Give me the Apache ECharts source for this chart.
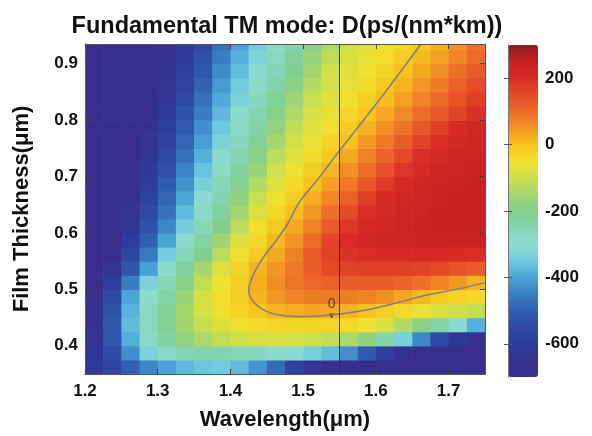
<!DOCTYPE html>
<html>
<head>
<meta charset="utf-8">
<title>Fundamental TM mode dispersion</title>
<script src="https://cdn.jsdelivr.net/npm/echarts@6/dist/echarts.min.js"></script>
<style>
  html, body { margin: 0; padding: 0; background: #fff; }
  #chart { width: 592px; height: 436px; }
</style>
</head>
<body>
<div id="chart"></div>
<script>
// cell centres of the map (um), 0.025 steps
const wavelengths = [1.2125, 1.2375, 1.2625, 1.2875, 1.3125, 1.3375, 1.3625, 1.3875, 1.4125, 1.4375, 1.4625,
  1.4875, 1.5125, 1.5375, 1.5625, 1.5875, 1.6125, 1.6375, 1.6625, 1.6875, 1.7125, 1.7375]
const thicknesses = [0.3625, 0.3875, 0.4125, 0.4375, 0.4625, 0.4875, 0.5125, 0.5375, 0.5625, 0.5875, 0.6125, 0.6375,
  0.6625, 0.6875, 0.7125, 0.7375, 0.7625, 0.7875, 0.8125, 0.8375, 0.8625, 0.8875, 0.9125, 0.9375]

// D in ps/(nm*km), one row per thickness, thinnest film first
const dispersion = [
  [-625, -560, -500, -440, -405, -375, -355, -350, -370, -420, -480, -580, -640, -680, -690, -690, -690, -690, -690, -690, -690, -690],
  [-620, -540, -430, -330, -285, -250, -237, -245, -255, -268, -288, -309, -336, -367, -427, -514, -591, -657, -690, -690, -690, -690],
  [-640, -520, -387, -283, -228, -175, -140, -115, -100, -90, -88, -91, -100, -117, -143, -178, -243, -336, -438, -550, -626, -668],
  [-670, -518, -372, -271, -212, -154, -110, -80, -55, -40, -30, -28, -28, -31, -39, -52, -83, -132, -182, -235, -303, -386],
  [-665, -535, -383, -274, -213, -147, -87, -46, -27, -7, 12, 26, 31, 27, 17, 0, -18, -39, -60, -82, -100, -112],
  [-682, -549, -399, -292, -232, -164, -91, -44, -16, 17, 48, 70, 80, 81, 79, 72, 57, 31, 8, -13, -28, -37],
  [-690, -590, -453, -330, -255, -192, -114, -53, -20, 22, 59, 88, 107, 117, 123, 124, 120, 111, 95, 72, 46, 17],
  [-690, -637, -524, -407, -288, -220, -147, -75, -29, 15, 50, 85, 120, 150, 165, 170, 172, 170, 164, 150, 138, 124],
  [-690, -676, -565, -460, -345, -261, -198, -123, -56, -14, 28, 75, 125, 162, 192, 203, 208, 210, 210, 208, 205, 200],
  [-690, -686, -601, -501, -400, -294, -231, -158, -84, -35, 8, 50, 101, 160, 203, 215, 226, 231, 236, 240, 240, 238],
  [-690, -688, -631, -533, -441, -340, -261, -199, -118, -54, -15, 28, 73, 125, 183, 209, 221, 230, 237, 244, 245, 245],
  [-690, -690, -653, -558, -467, -371, -282, -221, -150, -78, -31, 4, 49, 95, 150, 201, 212, 224, 232, 241, 245, 245],
  [-690, -690, -672, -579, -489, -398, -304, -243, -179, -106, -51, -17, 23, 68, 115, 170, 205, 218, 228, 235, 243, 245],
  [-690, -690, -682, -601, -512, -424, -334, -264, -205, -136, -77, -37, -4, 39, 84, 131, 178, 208, 223, 231, 238, 242],
  [-690, -690, -688, -620, -535, -446, -361, -283, -226, -163, -98, -56, -23, 12, 57, 96, 140, 185, 209, 224, 232, 239],
  [-690, -690, -690, -638, -556, -469, -385, -305, -246, -188, -124, -77, -42, -11, 30, 74, 112, 154, 196, 212, 226, 232],
  [-690, -690, -690, -655, -575, -492, -407, -330, -266, -210, -150, -94, -60, -29, 1, 47, 83, 121, 162, 201, 215, 228],
  [-690, -690, -690, -671, -594, -514, -429, -353, -285, -230, -173, -114, -77, -46, -17, 17, 57, 90, 129, 171, 204, 218],
  [-690, -690, -690, -683, -611, -535, -450, -375, -304, -249, -195, -138, -90, -62, -34, -6, 28, 63, 97, 128, 161, 196],
  [-690, -690, -690, -683, -627, -555, -472, -395, -328, -268, -215, -160, -105, -76, -50, -23, 5, 38, 72, 106, 138, 170],
  [-690, -690, -690, -684, -642, -572, -494, -413, -348, -286, -234, -182, -128, -88, -64, -39, -12, 17, 49, 83, 116, 147],
  [-690, -690, -690, -686, -657, -589, -515, -433, -367, -305, -253, -201, -149, -99, -76, -53, -28, -2, 28, 60, 94, 126],
  [-690, -690, -690, -688, -670, -604, -536, -454, -385, -325, -270, -220, -169, -119, -86, -65, -43, -18, 9, 39, 70, 103],
  [-690, -690, -690, -688, -680, -619, -555, -475, -402, -343, -287, -238, -188, -139, -96, -76, -56, -33, -8, 22, 58, 92]
]

const wavelengthTicks = [1.2, 1.3, 1.4, 1.5, 1.6, 1.7]
const thicknessTicks = [0.4, 0.5, 0.6, 0.7, 0.8, 0.9]
const colorbarTicks = [-600, -400, -200, 0, 200]

// D = 0 contour
const zeroContourLambda = [1.662, 1.62, 1.58, 1.55, 1.52, 1.495, 1.478, 1.462, 1.447, 1.435, 1.428, 1.425,
  1.428, 1.436, 1.448, 1.465, 1.49, 1.52, 1.54, 1.57, 1.6, 1.634, 1.67, 1.71, 1.75]
const zeroContourThickness = [0.935, 0.862, 0.795, 0.746, 0.695, 0.655, 0.615, 0.585, 0.56, 0.535, 0.515, 0.5,
  0.485, 0.472, 0.462, 0.455, 0.452, 0.453, 0.455, 0.46, 0.467, 0.478, 0.49, 0.5, 0.512]
const markWavelength = 1.55
const zeroLabelPoint = [1.539, 0.453]

const cellW = 0.025
const cellH = 0.025
const font = 'Liberation Sans, Arial, sans-serif'

const chart = echarts.init(document.getElementById('chart'))

const cells = []
thicknesses.forEach((t, i) => {
  wavelengths.forEach((w, j) => {
    cells.push([w, t, dispersion[i][j]])
  })
})

const contour = zeroContourLambda.map((w, i) => [w, zeroContourThickness[i]])

const jet = ['#3b2c8d', '#333392', '#2e3c9b', '#2e4aa4', '#3160b2', '#3a7fc4', '#4aa4d8', '#6fcbe0',
  '#8edccf', '#85d5b5', '#80cf8c', '#a5d670', '#cde04b', '#f2e02e', '#f6c21d', '#f29524',
  '#ec6b28', '#e54a27', '#d92d25', '#c62020', '#8b1c1c']

const tickLabel = {
  color: '#111',
  fontFamily: font,
  fontWeight: 'bold',
  fontSize: 17
}

function frameAxis(extra) {
  return Object.assign({
    type: 'value',
    z: 5,
    axisLine: { show: true, lineStyle: { color: '#555', width: 1 } },
    axisTick: { show: true, inside: true, length: 5, lineStyle: { color: '#444' } },
    splitLine: { show: false }
  }, extra)
}

chart.setOption({
  animation: false,
  title: {
    text: 'Fundamental TM mode: D(ps/(nm*km))',
    left: 287,
    top: 15,
    padding: 0,
    textAlign: 'center',
    textStyle: {
      color: '#111',
      fontFamily: font,
      fontWeight: 'bold',
      fontSize: 23.5
    }
  },
  grid: [
    { left: 85, top: 44, width: 400, height: 331 },
    { left: 508, top: 45, width: 30, height: 332 }
  ],
  xAxis: [
    frameAxis({
      gridIndex: 0, position: 'bottom', min: 1.2, max: 1.75,
      axisTick: { show: true, inside: true, length: 5, customValues: wavelengthTicks, lineStyle: { color: '#444' } },
      axisLabel: Object.assign({ margin: 9, customValues: wavelengthTicks }, tickLabel),
      name: 'Wavelength(\u03bcm)',
      nameLocation: 'middle',
      nameGap: 35,
      nameTextStyle: { color: '#111', fontFamily: font, fontWeight: 'bold', fontSize: 22 }
    }),
    frameAxis({
      gridIndex: 0, position: 'top', min: 1.2, max: 1.75,
      axisTick: { show: true, inside: true, length: 5, customValues: wavelengthTicks, lineStyle: { color: '#444' } },
      axisLabel: { show: false }
    }),
    { type: 'value', gridIndex: 1, min: 0, max: 1, show: false }
  ],
  yAxis: [
    frameAxis({
      gridIndex: 0, position: 'left', min: 0.35, max: 0.935,
      axisTick: { show: true, inside: true, length: 5, customValues: thicknessTicks, lineStyle: { color: '#444' } },
      axisLabel: Object.assign({ margin: 7, customValues: thicknessTicks }, tickLabel),
      name: 'Film Thickness(\u03bcm)',
      nameLocation: 'middle',
      nameGap: 52,
      nameTextStyle: { color: '#111', fontFamily: font, fontWeight: 'bold', fontSize: 22 }
    }),
    frameAxis({
      gridIndex: 0, position: 'right', min: 0.35, max: 0.935,
      axisTick: { show: true, inside: true, length: 5, customValues: thicknessTicks, lineStyle: { color: '#444' } },
      axisLabel: { show: false }
    }),
    frameAxis({
      gridIndex: 1, position: 'right', min: -700, max: 300,
      axisLine: { show: true, lineStyle: { color: '#777', width: 1 } },
      axisTick: { show: true, inside: true, length: 4, customValues: colorbarTicks, lineStyle: { color: '#555' } },
      axisLabel: Object.assign({ margin: 7, customValues: colorbarTicks }, tickLabel)
    }),
    frameAxis({
      gridIndex: 1, position: 'left', min: -700, max: 300,
      axisLine: { show: true, lineStyle: { color: '#777', width: 1 } },
      axisTick: { show: true, inside: true, length: 4, customValues: colorbarTicks, lineStyle: { color: '#555' } },
      axisLabel: { show: false }
    })
  ],
  visualMap: {
    type: 'continuous',
    min: -700,
    max: 300,
    dimension: 2,
    seriesIndex: 0,
    calculable: false,
    realtime: false,
    orient: 'vertical',
    left: 508,
    top: 45,
    padding: 0,
    itemWidth: 30,
    itemHeight: 332,
    text: null,
    inRange: { color: jet }
  },
  series: [
    {
      type: 'custom',
      xAxisIndex: 0,
      yAxisIndex: 0,
      clip: true,
      silent: true,
      data: cells,
      renderItem: function (params, api) {
        const w = api.value(0)
        const t = api.value(1)
        const p0 = api.coord([w - cellW / 2, t + cellH / 2])
        const p1 = api.coord([w + cellW / 2, t - cellH / 2])
        return {
          type: 'rect',
          shape: { x: p0[0], y: p0[1], width: p1[0] - p0[0] + 0.6, height: p1[1] - p0[1] + 0.6 },
          style: { fill: api.visual('color') }
        }
      }
    },
    {
      type: 'line',
      xAxisIndex: 0,
      yAxisIndex: 0,
      data: contour,
      showSymbol: false,
      smooth: 0.3,
      silent: true,
      clip: true,
      lineStyle: { color: '#7f7f7f', width: 1.5 },
      markLine: {
        silent: true,
        symbol: 'none',
        label: { show: false },
        lineStyle: { color: '#333', width: 1, type: 'solid' },
        data: [{ xAxis: markWavelength }]
      }
    },
    {
      type: 'scatter',
      xAxisIndex: 0,
      yAxisIndex: 0,
      data: [zeroLabelPoint],
      symbol: 'triangle',
      symbolRotate: 180,
      symbolSize: 5,
      silent: true,
      itemStyle: { color: '#111' },
      label: {
        show: true,
        position: 'top',
        distance: 2,
        formatter: '0',
        color: '#3a2a20',
        fontFamily: font,
        fontSize: 14
      }
    }
  ]
})
</script>
</body>
</html>
